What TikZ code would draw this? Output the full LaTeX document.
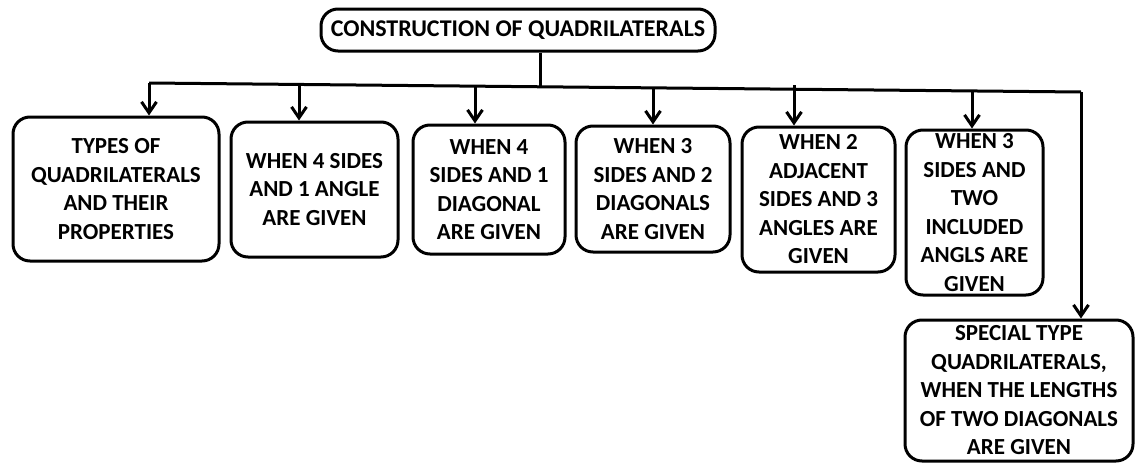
\documentclass[tikz,border=0pt]{standalone}
\usepackage{fontspec}
\setmainfont{Carlito}
\usetikzlibrary{arrows.meta}
\begin{document}
\begin{tikzpicture}[x=1pt,y=-1pt,
  box/.style={draw=black,line width=3pt,rounded corners=17pt,inner sep=0pt,
    align=center,font=\fontsize{23}{28.5}\selectfont\bfseries},
  link/.style={line width=3pt},
  drop/.style={link,-{Straight Barb[length=11pt,width=15pt]}}]
\useasboundingbox (0,0) rectangle (1135,463);

% root
\node[box,minimum width=394pt,minimum height=42pt,
  font=\fontsize{24}{28.5}\selectfont\bfseries] (root) at (518,30)
  {CONSTRUCTION OF QUADRILATERALS};

% branches
\node[box,minimum width=206pt,minimum height=144pt] (t1) at (116,189)
  {TYPES OF\\QUADRILATERALS\\AND THEIR\\PROPERTIES};
\node[box,minimum width=167pt,minimum height=135pt] (t2) at (314.5,189.5)
  {WHEN 4 SIDES\\AND 1 ANGLE\\ARE GIVEN};
\node[box,minimum width=152pt,minimum height=129pt] (t3) at (489,189.5)
  {WHEN 4\\SIDES AND 1\\DIAGONAL\\ARE GIVEN};
\node[box,minimum width=154pt,minimum height=126pt] (t4) at (653,189)
  {WHEN 3\\SIDES AND 2\\DIAGONALS\\ARE GIVEN};
\node[box,minimum width=153pt,minimum height=145pt] (t5) at (818.5,199.5)
  {WHEN 2\\ADJACENT\\SIDES AND 3\\ANGLES ARE\\GIVEN};
\node[box,minimum width=137pt,minimum height=165pt] (t6) at (974.5,212.5)
  {WHEN 3\\SIDES AND\\TWO\\INCLUDED\\ANGLS ARE\\GIVEN};
\node[box,minimum width=228pt,minimum height=141pt] (t7) at (1019,390.5)
  {SPECIAL TYPE\\QUADRILATERALS,\\WHEN THE LENGTHS\\OF TWO DIAGONALS\\ARE GIVEN};

% bus line and its tap points
\coordinate (busL) at (149,83);
\coordinate (busR) at (1081,92);
\coordinate (stem) at (540,86.8);
\coordinate (d2) at (299,84.4);
\coordinate (d3) at (475,86.1);
\coordinate (d4) at (653,87.9);
\coordinate (d5) at (794,85);
\coordinate (d6) at (972,90.9);

\draw[link] (root.south -| stem) -- (stem);
\draw[link] (busL) -- (busR);
\draw[drop] (busL) -- (busL |- t1.north);
\draw[drop] (d2) -- (d2 |- t2.north);
\draw[drop] (d3) -- (d3 |- t3.north);
\draw[drop] (d4) -- (d4 |- t4.north);
\draw[drop] (d5) -- (d5 |- t5.north);
\draw[drop] (d6) -- (d6 |- t6.north);
\draw[drop] (busR) -- (busR |- t7.north);
\end{tikzpicture}
\end{document}
